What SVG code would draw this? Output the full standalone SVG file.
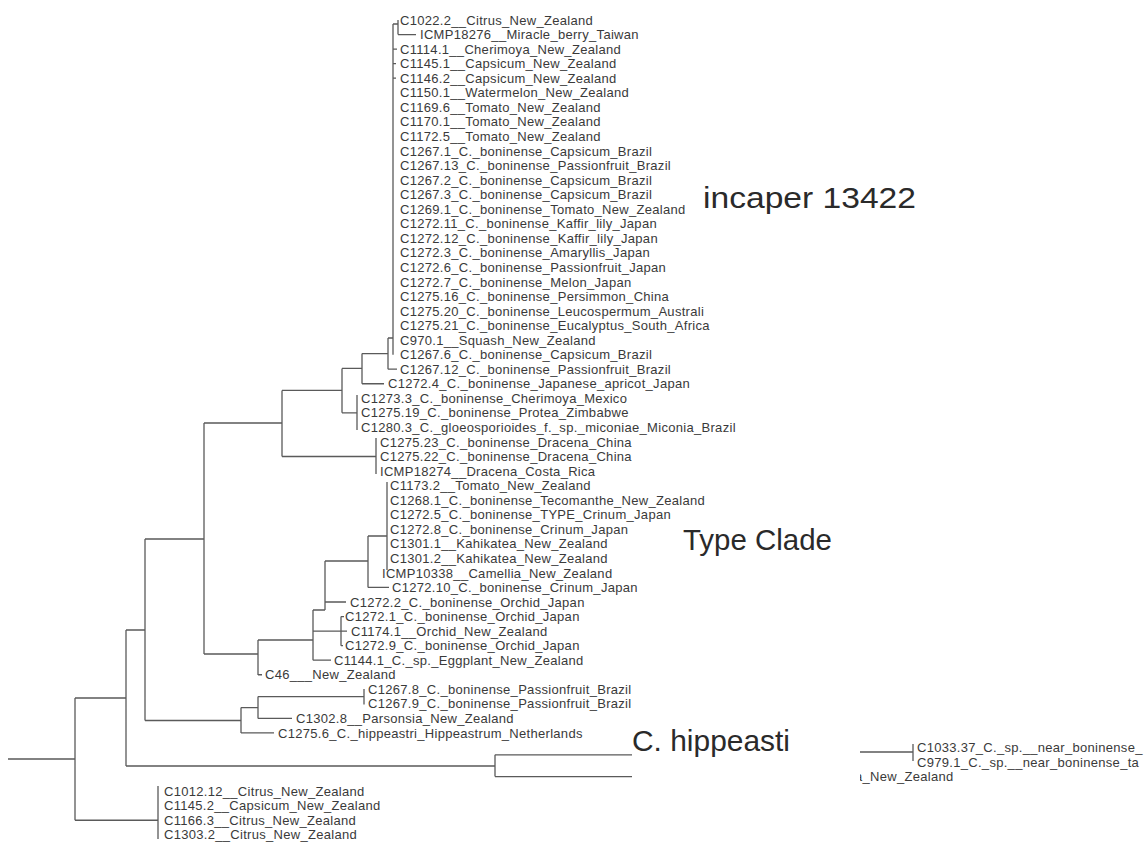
<svg xmlns="http://www.w3.org/2000/svg" width="1146" height="856" viewBox="0 0 1146 856">
<style>
.t{font-family:"Liberation Sans",Arial,sans-serif;font-size:13px;fill:#3a3a3a;letter-spacing:0.3px}
.big{font-family:"Liberation Sans",Arial,sans-serif;fill:#2a2a2a}
.br{fill:none;stroke:#5a5a5a;stroke-width:1.3}
</style>
<defs>
<clipPath id="cut"><rect x="860" y="762" width="200" height="22"/></clipPath>
</defs>
<rect width="1146" height="856" fill="#ffffff"/>
<g id="connectors">
<path class="br" d="M8 759H75 M75 698V820.25 M75 820.25H158 M158 786V839
M75 698H126 M126 630V766 M126 766H495 M495 754.8V776.6 M495 754.8H632 M495 776.6H632
M126 630H145 M145 539V720.5 M145 720.5H241 M241 707.6V732.95 M241 732.95H274 M241 707.6H258
M258 696.6V718.4 M258 718.4H292 M258 696.6H364 M364 689V704.5
M145 539H204 M204 423V654 M204 654H258 M258 640V675 M258 674.75H262
M258 640H313 M313 610V660.2 M313 660.2H331 M313 631.1H341 M341 616.55V645.65 M341 616.55H344 M341 645.65H343 M341 631.1H347
M313 610H325 M325 561V610 M325 602H346 M325 561H368 M368 536V587.45 M368 587.45H389 M368 536H387 M387 482V570
M204 423H282 M282 390.4V456.5 M282 456.5H376 M376 438V474
M282 390.4H342 M342 368.4V412.85 M342 412.85H357 M357 395V430
M342 368.4H362 M362 353.6V383.75 M362 383.75H384 M362 353.6H388
M388 338V369.2 M388 369.2H397 M388 338H393 M393 24V354.65
M393 24H398 M398 20V34.55 M398 34.55H416 M393 49.1H397 M393 63.65H396 M393 78.2H396
M860 752H913 M913 744V761"/>
</g>
<g id="leaf-01"><text class="t" x="400" y="24.6">C1022.2__Citrus_New_Zealand</text></g>
<g id="leaf-02"><text class="t" x="420" y="39.15">ICMP18276__Miracle_berry_Taiwan</text></g>
<g id="leaf-03"><text class="t" x="400" y="53.7">C1114.1__Cherimoya_New_Zealand</text></g>
<g id="leaf-04"><text class="t" x="400" y="68.25">C1145.1__Capsicum_New_Zealand</text></g>
<g id="leaf-05"><text class="t" x="400" y="82.8">C1146.2__Capsicum_New_Zealand</text></g>
<g id="leaf-06"><text class="t" x="400" y="97.35">C1150.1__Watermelon_New_Zealand</text></g>
<g id="leaf-07"><text class="t" x="400" y="111.9">C1169.6__Tomato_New_Zealand</text></g>
<g id="leaf-08"><text class="t" x="400" y="126.45">C1170.1__Tomato_New_Zealand</text></g>
<g id="leaf-09"><text class="t" x="400" y="141">C1172.5__Tomato_New_Zealand</text></g>
<g id="leaf-10"><text class="t" x="400" y="155.55">C1267.1_C._boninense_Capsicum_Brazil</text></g>
<g id="leaf-11"><text class="t" x="400" y="170.1">C1267.13_C._boninense_Passionfruit_Brazil</text></g>
<g id="leaf-12"><text class="t" x="400" y="184.65">C1267.2_C._boninense_Capsicum_Brazil</text></g>
<g id="leaf-13"><text class="t" x="400" y="199.2">C1267.3_C._boninense_Capsicum_Brazil</text></g>
<g id="leaf-14"><text class="t" x="400" y="213.75">C1269.1_C._boninense_Tomato_New_Zealand</text></g>
<g id="leaf-15"><text class="t" x="400" y="228.3">C1272.11_C._boninense_Kaffir_lily_Japan</text></g>
<g id="leaf-16"><text class="t" x="400" y="242.85">C1272.12_C._boninense_Kaffir_lily_Japan</text></g>
<g id="leaf-17"><text class="t" x="400" y="257.4">C1272.3_C._boninense_Amaryllis_Japan</text></g>
<g id="leaf-18"><text class="t" x="400" y="271.95">C1272.6_C._boninense_Passionfruit_Japan</text></g>
<g id="leaf-19"><text class="t" x="400" y="286.5">C1272.7_C._boninense_Melon_Japan</text></g>
<g id="leaf-20"><text class="t" x="400" y="301.05">C1275.16_C._boninense_Persimmon_China</text></g>
<g id="leaf-21"><text class="t" x="400" y="315.6">C1275.20_C._boninense_Leucospermum_Australi</text></g>
<g id="leaf-22"><text class="t" x="400" y="330.15">C1275.21_C._boninense_Eucalyptus_South_Africa</text></g>
<g id="leaf-23"><text class="t" x="400" y="344.7">C970.1__Squash_New_Zealand</text></g>
<g id="leaf-24"><text class="t" x="400" y="359.25">C1267.6_C._boninense_Capsicum_Brazil</text></g>
<g id="leaf-25"><text class="t" x="400" y="373.8">C1267.12_C._boninense_Passionfruit_Brazil</text></g>
<g id="leaf-26"><text class="t" x="388" y="388.35">C1272.4_C._boninense_Japanese_apricot_Japan</text></g>
<g id="leaf-27"><text class="t" x="361" y="402.9">C1273.3_C._boninense_Cherimoya_Mexico</text></g>
<g id="leaf-28"><text class="t" x="361" y="417.45">C1275.19_C._boninense_Protea_Zimbabwe</text></g>
<g id="leaf-29"><text class="t" x="361" y="432">C1280.3_C._gloeosporioides_f._sp._miconiae_Miconia_Brazil</text></g>
<g id="leaf-30"><text class="t" x="380" y="446.55">C1275.23_C._boninense_Dracena_China</text></g>
<g id="leaf-31"><text class="t" x="380" y="461.1">C1275.22_C._boninense_Dracena_China</text></g>
<g id="leaf-32"><text class="t" x="380" y="475.65">ICMP18274__Dracena_Costa_Rica</text></g>
<g id="leaf-33"><text class="t" x="390" y="490.2">C1173.2__Tomato_New_Zealand</text></g>
<g id="leaf-34"><text class="t" x="390" y="504.75">C1268.1_C._boninense_Tecomanthe_New_Zealand</text></g>
<g id="leaf-35"><text class="t" x="390" y="519.3">C1272.5_C._boninense_TYPE_Crinum_Japan</text></g>
<g id="leaf-36"><text class="t" x="390" y="533.85">C1272.8_C._boninense_Crinum_Japan</text></g>
<g id="leaf-37"><text class="t" x="390" y="548.4">C1301.1__Kahikatea_New_Zealand</text></g>
<g id="leaf-38"><text class="t" x="390" y="562.95">C1301.2__Kahikatea_New_Zealand</text></g>
<g id="leaf-39"><text class="t" x="382" y="577.5">ICMP10338__Camellia_New_Zealand</text></g>
<g id="leaf-40"><text class="t" x="392" y="592.05">C1272.10_C._boninense_Crinum_Japan</text></g>
<g id="leaf-41"><text class="t" x="350" y="606.6">C1272.2_C._boninense_Orchid_Japan</text></g>
<g id="leaf-42"><text class="t" x="345" y="621.15">C1272.1_C._boninense_Orchid_Japan</text></g>
<g id="leaf-43"><text class="t" x="351" y="635.7">C1174.1__Orchid_New_Zealand</text></g>
<g id="leaf-44"><text class="t" x="345" y="650.25">C1272.9_C._boninense_Orchid_Japan</text></g>
<g id="leaf-45"><text class="t" x="334" y="664.8">C1144.1_C._sp._Eggplant_New_Zealand</text></g>
<g id="leaf-46"><text class="t" x="265" y="679.35">C46___New_Zealand</text></g>
<g id="leaf-47"><text class="t" x="368" y="693.9">C1267.8_C._boninense_Passionfruit_Brazil</text></g>
<g id="leaf-48"><text class="t" x="368" y="708.45">C1267.9_C._boninense_Passionfruit_Brazil</text></g>
<g id="leaf-49"><text class="t" x="296" y="723">C1302.8__Parsonsia_New_Zealand</text></g>
<g id="leaf-50"><text class="t" x="278" y="737.55">C1275.6_C._hippeastri_Hippeastrum_Netherlands</text></g>
<g id="leaf-51"><text class="t" x="917" y="752.1">C1033.37_C._sp.__near_boninense_</text></g>
<g id="leaf-52"><text class="t" x="917" y="766.65">C979.1_C._sp.__near_boninense_ta</text></g>
<g id="leaf-53" clip-path="url(#cut)"><text class="t" x="855" y="781.2">a_New_Zealand</text></g>
<g id="leaf-54"><text class="t" x="164" y="795.75">C1012.12__Citrus_New_Zealand</text></g>
<g id="leaf-55"><text class="t" x="164" y="810.3">C1145.2__Capsicum_New_Zealand</text></g>
<g id="leaf-56"><text class="t" x="164" y="824.85">C1166.3__Citrus_New_Zealand</text></g>
<g id="leaf-57"><text class="t" x="164" y="839.4">C1303.2__Citrus_New_Zealand</text></g>
<g id="label-incaper"><text class="big" x="703" y="208" font-size="29" textLength="213" lengthAdjust="spacingAndGlyphs">incaper 13422</text></g>
<g id="label-type"><text class="big" x="683" y="550" font-size="30" textLength="149" lengthAdjust="spacingAndGlyphs">Type Clade</text></g>
<g id="label-hippeasti"><text class="big" x="632" y="751" font-size="29" textLength="158" lengthAdjust="spacingAndGlyphs">C. hippeasti</text></g>
</svg>
